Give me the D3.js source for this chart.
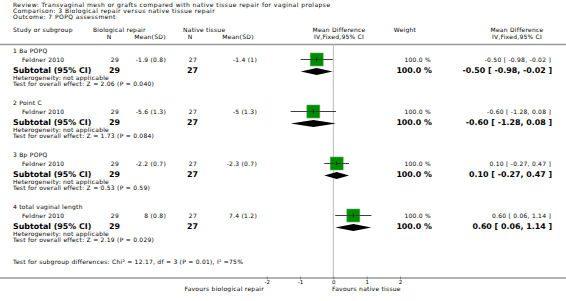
<!DOCTYPE html>
<html>
<head>
<meta charset="utf-8">
<script src="https://cdn.jsdelivr.net/npm/d3@7"></script>
<style>
  body { margin: 0; background: #fff; }
  text { font-family: "DejaVu Sans", Verdana, sans-serif; fill: #000; }
</style>
</head>
<body>
<div id="chart"></div>
<script>
// datos del forest plot
const groups = ["1 Ba POPQ", "2 Point C", "3 Bp POPQ", "4 total vaginal length"];
const studies = ["Feldner 2010", "Feldner 2010", "Feldner 2010", "Feldner 2010"];
const bioN = [29, 29, 29, 29];
const bioMean = [-1.9, -5.6, -2.2, 8];
const bioSD = [0.8, 1.3, 0.7, 0.8];
const natN = [27, 27, 27, 27];
const natMean = [-1.4, -5, -2.3, 7.4];
const natSD = [1, 1.3, 0.7, 1.2];
const md = [-0.5, -0.6, 0.1, 0.6];
const ciLow = [-0.98, -1.28, -0.27, 0.06];
const ciHigh = [-0.02, 0.08, 0.47, 1.14];
const weights = [100, 100, 100, 100];
const zVals = ["2.06", "1.73", "0.53", "2.19"];
const pVals = ["0.040", "0.084", "0.59", "0.029"];
const axisTicks = [-2, -1, 0, 1, 2];

const width = 566, height = 301;
const small = 6.0, big = 7.9;

const svg = d3.select("#chart").append("svg")
    .attr("width", width)
    .attr("height", height);

// escala del eje de diferencias de medias
const x = d3.scaleLinear().domain([-2, 2]).range([266.7, 400]);

const groupY = d3.scaleLinear().domain([0, 1]).range([51, 103]);
const axisY = 278;
const lineY = 44.5;

function txt(xp, yp, s, opts = {}) {
    return svg.append("text")
        .attr("x", xp)
        .attr("y", yp)
        .attr("dy", "0.35em")
        .attr("text-anchor", opts.anchor || "start")
        .style("font-size", (opts.size || small) + "px")
        .style("font-weight", opts.bold ? "bold" : "normal")
        .style("letter-spacing", opts.bold ? "0px" : (opts.ls || 0.25) + "px")
        .text(s);
}

// cabecera
txt(13, 5, "Review:  Transvaginal mesh or grafts compared with native tissue repair for vaginal prolapse", { ls: 0.45 });
txt(13, 11, "Comparison:  3 Biological repair versus native tissue repair", { ls: 0.45 });
txt(13, 17, "Outcome:  7 POPQ assessment", { ls: 0.45 });

txt(13, 30, "Study or subgroup");
txt(93, 30, "Biological repair");
txt(109, 37, "N", { anchor: "middle" });
txt(150, 37, "Mean(SD)", { anchor: "middle" });
txt(183, 30, "Native tissue");
txt(190, 37, "N", { anchor: "middle" });
txt(238, 37, "Mean(SD)", { anchor: "middle" });
txt(339, 30, "Mean Difference", { anchor: "middle" });
txt(339, 37, "IV,Fixed,95% CI", { anchor: "middle" });
txt(405, 30, "Weight", { anchor: "middle" });
txt(517, 30, "Mean Difference", { anchor: "middle" });
txt(517, 37, "IV,Fixed,95% CI", { anchor: "middle" });

svg.append("line")
    .attr("x1", 0).attr("x2", width)
    .attr("y1", lineY).attr("y2", lineY)
    .attr("stroke", "#999").attr("stroke-width", 1.6);

// linea vertical del cero
svg.append("line")
    .attr("x1", x(0)).attr("x2", x(0))
    .attr("y1", lineY).attr("y2", axisY)
    .attr("stroke", "#bbb").attr("stroke-width", 1);

const f2 = v => v.toFixed(2);
const ciStr = i => f2(md[i]) + " [ " + f2(ciLow[i]) + ", " + f2(ciHigh[i]) + " ]";

groups.forEach((g, i) => {
    const y0 = groupY(i);
    const yS = y0 + 8.5;
    const yT = y0 + 20.5;
    const yB = y0 + 19.4;

    txt(13, y0, g);
    txt(22, yS, studies[i]);
    txt(119, yS, bioN[i], { anchor: "end" });
    txt(166, yS, bioMean[i] + " (" + bioSD[i] + ")", { anchor: "end" });
    txt(197, yS, natN[i], { anchor: "end" });
    txt(257, yS, natMean[i] + " (" + natSD[i] + ")", { anchor: "end" });
    txt(431, yS, weights[i].toFixed(1) + " %", { anchor: "end" });
    txt(551, yS, ciStr(i), { anchor: "end" });

    txt(13, yB, "Subtotal (95% CI)", { size: big, bold: true });
    txt(120, yB, bioN[i], { size: big, bold: true, anchor: "end" });
    txt(198, yB, natN[i], { size: big, bold: true, anchor: "end" });
    txt(432, yB, weights[i].toFixed(1) + " %", { size: big, bold: true, anchor: "end" });
    txt(552, yB, ciStr(i), { size: big, bold: true, anchor: "end" });

    txt(13, y0 + 27.1, "Heterogeneity: not applicable");
    txt(13, y0 + 32.8, "Test for overall effect: Z = " + zVals[i] + " (P = " + pVals[i] + ")");

    // intervalo de confianza y cuadrado
    const sq = 13;
    svg.append("line")
        .attr("x1", x(ciLow[i])).attr("x2", x(ciHigh[i]))
        .attr("y1", yS).attr("y2", yS)
        .attr("stroke", "#333").attr("stroke-width", 0.8);
    svg.append("rect")
        .attr("x", x(md[i]) - sq / 2).attr("y", yS - sq / 2)
        .attr("width", sq).attr("height", sq)
        .attr("fill", "#008c00")
        .attr("stroke", "#5fb55f").attr("stroke-width", 0.6);
    svg.append("line")
        .attr("x1", x(ciLow[i])).attr("x2", x(ciHigh[i]))
        .attr("y1", yS).attr("y2", yS)
        .attr("stroke", "#222").attr("stroke-width", 0.5);
    svg.append("line")
        .attr("x1", x(md[i])).attr("x2", x(md[i]))
        .attr("y1", yS - 2).attr("y2", yS + 2)
        .attr("stroke", "#000").attr("stroke-width", 0.6);

    // diamante
    svg.append("path")
        .attr("d", `M${x(ciLow[i])},${yT} L${x(md[i])},${yT - 3.5} L${x(ciHigh[i])},${yT} L${x(md[i])},${yT + 3.5} Z`)
        .attr("fill", "#000");
});

txt(13, 262, "Test for subgroup differences: Chi² = 12.17, df = 3 (P = 0.01), I² =75%");

// eje inferior
svg.append("line")
    .attr("x1", 0).attr("x2", width)
    .attr("y1", axisY).attr("y2", axisY)
    .attr("stroke", "#999").attr("stroke-width", 1.6);

const axis = d3.axisBottom(x).tickValues(axisTicks).tickFormat(d => String(d))
    .tickSize(3).tickSizeOuter(0);
const ag = svg.append("g")
    .attr("transform", "translate(0," + (axisY - 1.5) + ")")
    .call(axis);
ag.select(".domain").remove();
ag.selectAll(".tick line").attr("stroke", "#555").attr("stroke-width", 0.6);
ag.selectAll(".tick text")
    .attr("y", 3.5)
    .style("font-size", "5.5px")
    .style("font-family", "DejaVu Sans, sans-serif")
    .attr("fill", "#000");

txt(264, 289, "Favours biological repair", { anchor: "end" });
txt(332, 289, "Favours native tissue");
</script>
</body>
</html>
